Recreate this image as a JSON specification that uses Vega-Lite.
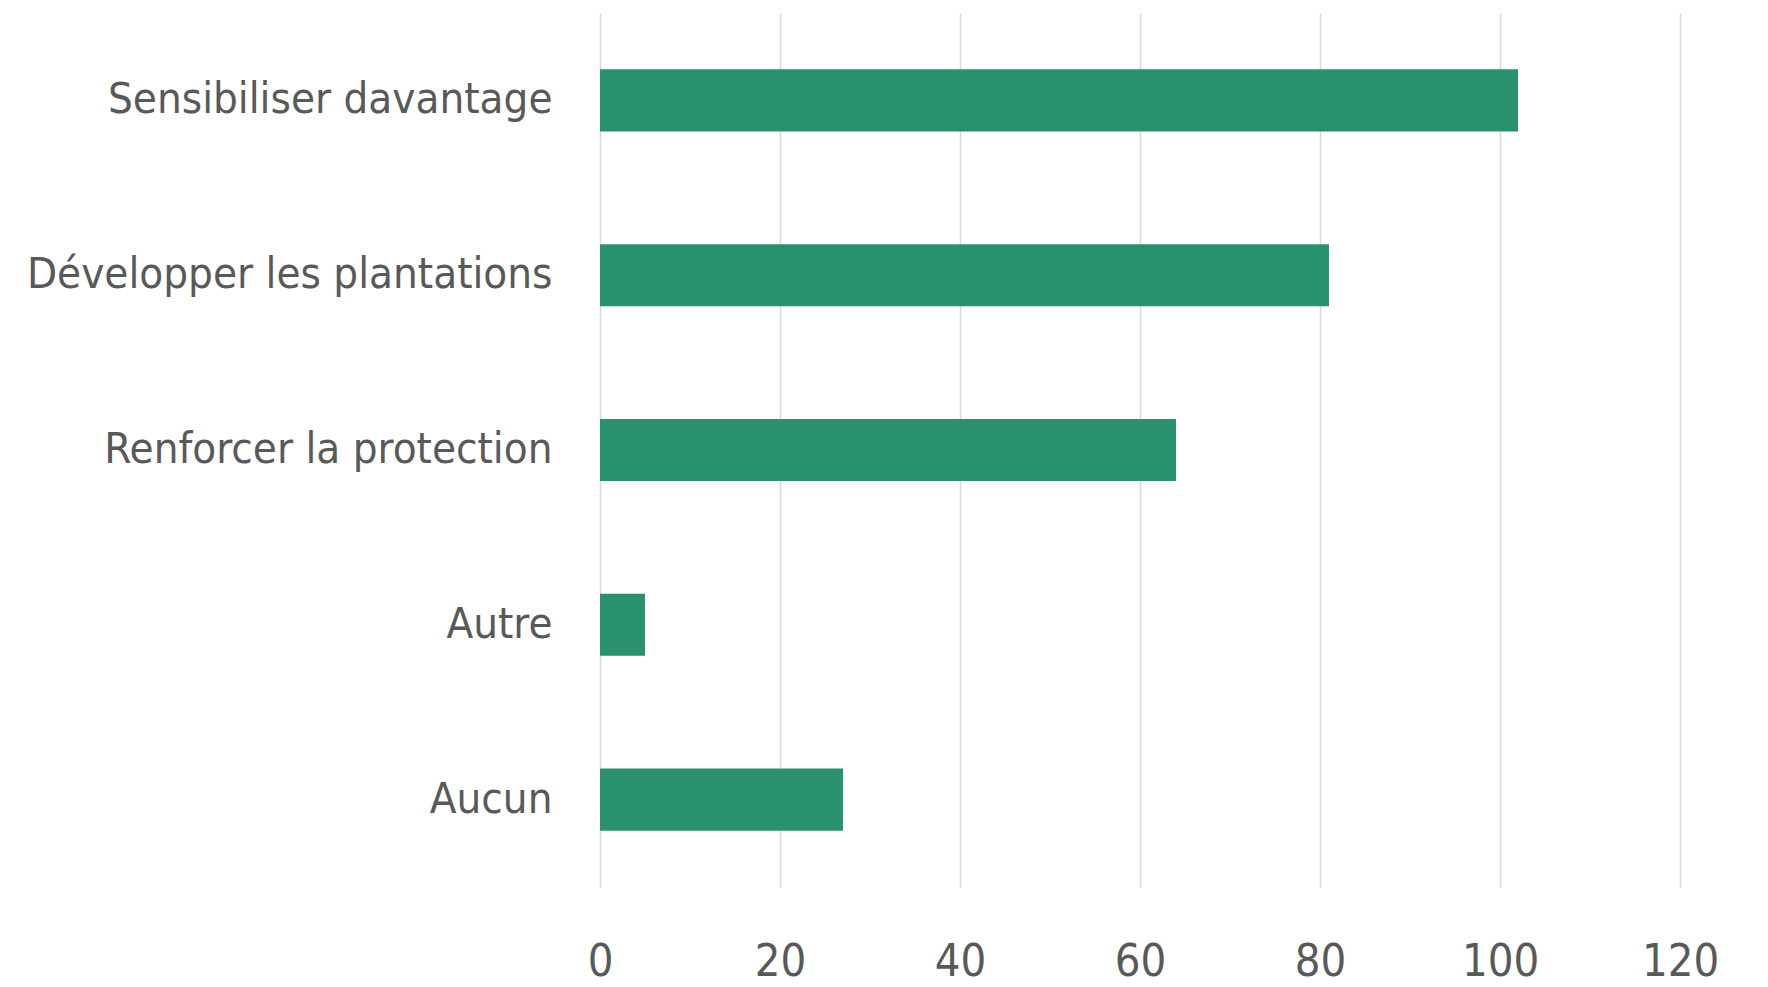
{
  "$schema": "https://vega.github.io/schema/vega-lite/v6.json",
  "width": 1080,
  "height": 874,
  "autosize": {"type": "none"},
  "padding": {"left": 600, "top": 13, "right": 88, "bottom": 100},
  "background": "white",
  "data": {"values": [
    {"categorie": "Sensibiliser davantage", "valeur": 102},
    {"categorie": "Développer les plantations", "valeur": 81},
    {"categorie": "Renforcer la protection", "valeur": 64},
    {"categorie": "Autre", "valeur": 5},
    {"categorie": "Aucun", "valeur": 27}
  ]},
  "mark": {"type": "bar", "color": "#2a916d"},
  "encoding": {
    "y": {
      "field": "categorie", "type": "nominal", "sort": null,
      "scale": {"paddingInner": 0.645, "paddingOuter": 0.3225},
      "axis": {"title": null, "domain": false, "ticks": false, "grid": false,
        "labelFont": "DejaVu Sans Condensed", "labelFontSize": 43.5, "labelFontWeight": 300, "labelColor": "#595959",
        "labelPadding": 48, "labelLimit": 700}
    },
    "x": {
      "field": "valeur", "type": "quantitative",
      "scale": {"domain": [0, 120], "nice": false},
      "axis": {"title": null, "domain": false, "ticks": false, "values": [0, 20, 40, 60, 80, 100, 120],
        "grid": true, "gridColor": "#d9d9d9", "gridWidth": 1.5, "labelFlush": false,
        "labelFont": "DejaVu Sans Condensed", "labelFontSize": 45, "labelFontWeight": 300, "labelColor": "#595959",
        "labelPadding": 52}
    }
  },
  "config": {"view": {"stroke": null}}
}
